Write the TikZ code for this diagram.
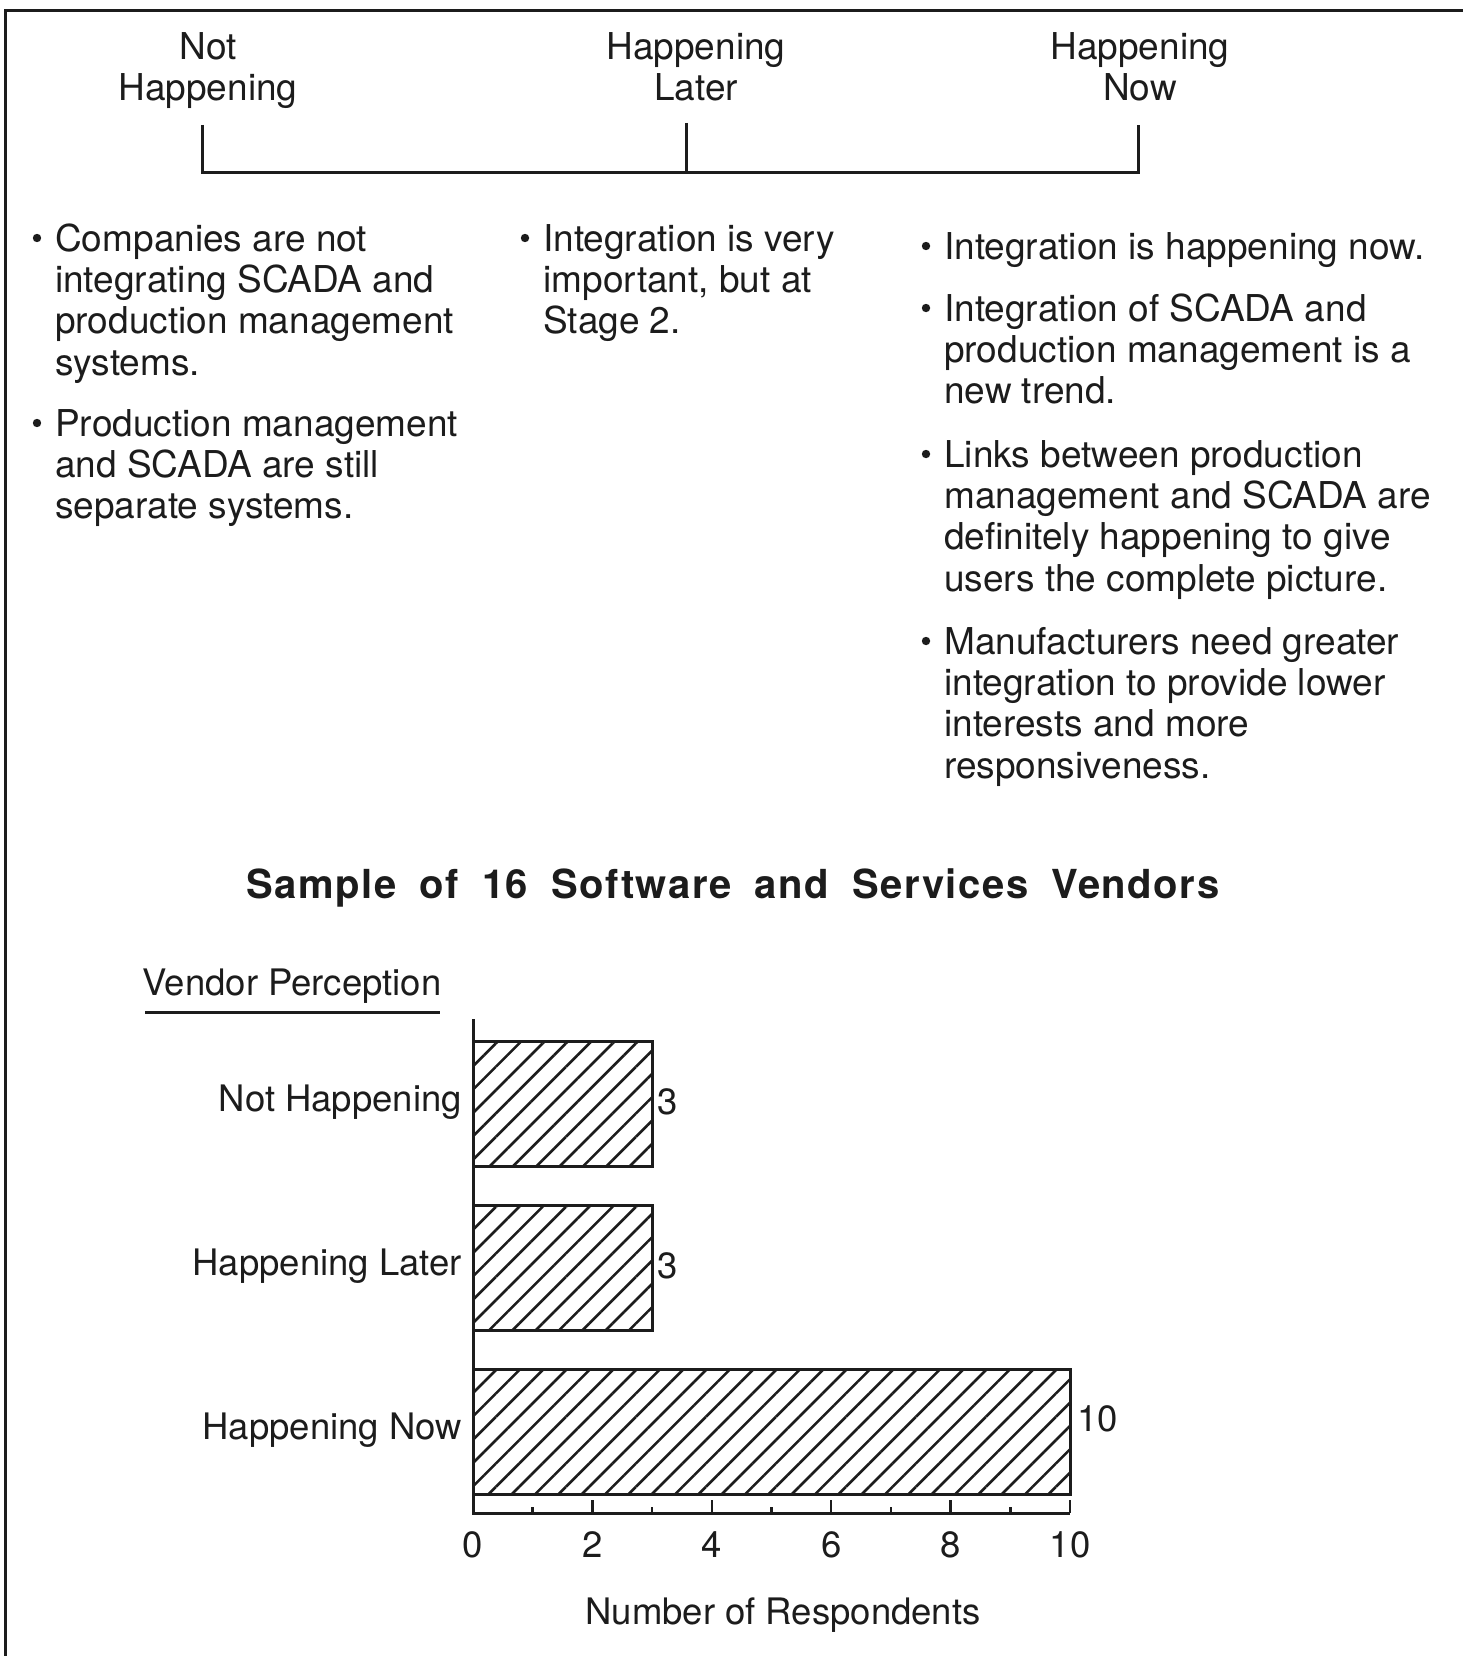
\documentclass[tikz,border=0pt]{standalone}
\usepackage{fontspec}
\setmainfont{TeX Gyre Heros}
\newfontfamily\titlefont{TeX Gyre Heros}[LetterSpace=4,WordSpace=1.8]
\usetikzlibrary{patterns.meta}
\definecolor{ink}{HTML}{1C1C1C}
\begin{document}
\begin{tikzpicture}[x=1pt,y=-1pt,
  rule/.style={draw=ink,line width=3pt},
  body/.style={font=\fontsize{37}{41.4}\selectfont,text=ink,inner sep=0pt,align=left,anchor=base west},
  head/.style={font=\fontsize{37}{41}\selectfont,text=ink,inner sep=0pt,align=center,anchor=base},
  lab/.style={font=\fontsize{36.5}{41}\selectfont,text=ink,inner sep=0pt},
  title/.style={font=\titlefont\fontsize{40}{44}\bfseries\selectfont,text=ink,inner sep=0pt,anchor=base},
  bar/.style={draw=ink,line width=3pt,pattern={Lines[angle=45,distance=16.5pt,line width=2.6pt]},pattern color=ink},
  dot/.style={fill=ink}]
\useasboundingbox (0,0) rectangle (1463,1656);
\fill[white] (0,0) rectangle (1463,1656);

% frame (top and left edges)
\draw[rule] (5.5,1656) -- (5.5,10.5) -- (1463,10.5);

% timeline headings (base anchor sits on the last line)
\node[head] (hnot) at (208,101) {Not\\Happening};
\node[head] (hlater) at (696,101) {Happening\\Later};
\node[head] (hnow) at (1140,101) {Happening\\Now};

% timeline bracket
\coordinate (bl) at (202,125);
\coordinate (bm) at (686,123);
\coordinate (br) at (1138,125);
\draw[rule] (bl) -- (bl |- 0,173) -- (br |- 0,173) -- (br);
\draw[rule] (bm) -- (bm |- 0,173);

% bullet points: positioned by the baseline of their last line
\node[body] (c1a) at (55,{251+3*41.4}) {Companies are not\\integrating SCADA and\\production management\\systems.};
\node[body] (c1b) at (55,{436+2*41.4}) {Production management\\and SCADA are still\\separate systems.};
\node[body] (c2a) at (543,{251+2*41.4}) {Integration is very\\important, but at\\Stage 2.};
\node[body] (c3a) at (944,259) {Integration is happening now.};
\node[body] (c3b) at (944,{321+2*41.4}) {Integration of SCADA and\\production management is a\\new trend.};
\node[body] (c3c) at (944,{467+3*41.4}) {Links between production\\management and SCADA are\\definitely happening to give\\users the complete picture.};
\node[body] (c3d) at (944,{654+3*41.4}) {Manufacturers need greater\\integration to provide lower\\interests and more\\responsiveness.};
% bullets on the first line of each item
\foreach \n/\y in {c1a/251,c1b/436,c2a/251,c3a/259,c3b/321,c3c/467,c3d/654}
  \fill[dot] (\n.west |- 0,\y) ++(-18,-13) circle (4.2);

% chart title
\node[title] (ttl) at (733,898) {Sample of 16 Software and Services Vendors};
\node[lab,anchor=base] (vp) at (292,995) {Vendor Perception};
\draw[rule] (145,1012) -- (440,1012);

% bars
\draw[bar] (473,1041) rectangle (652.1,1166);
\draw[bar] (473,1205) rectangle (652.1,1330);
\draw[bar] (473,1369) rectangle (1070,1494);

% axes and ticks
\draw[rule] (473,1019) -- (473,1513) -- (1070,1513);
\foreach \i in {1,3,...,9}
  \draw[ink,line width=2.5pt] ({473+\i*59.7},1513) -- ++(0,-6);
\foreach \i in {2,4,...,10}
  \draw[ink,line width=2.5pt] ({473+\i*59.7},1513) -- ++(0,-13);
\foreach \i in {0,2,...,10}
  \node[lab,anchor=base] (t\i) at ({473+\i*59.7},1557) {\i};
\node[lab,anchor=base] (xlab) at (783,1624) {Number of Respondents};

% category and value labels
\node[lab,anchor=mid east] (cat1) at (462,1109) {Not Happening};
\node[lab,anchor=mid east] (cat2) at (462,1273) {Happening Later};
\node[lab,anchor=mid east] (cat3) at (462,1437) {Happening Now};
\node[lab,anchor=mid west] (v1) at (657,1112) {3};
\node[lab,anchor=mid west] (v2) at (657,1276) {3};
\node[lab,anchor=mid west] (v3) at (1077,1429) {10};
\end{tikzpicture}
\end{document}
